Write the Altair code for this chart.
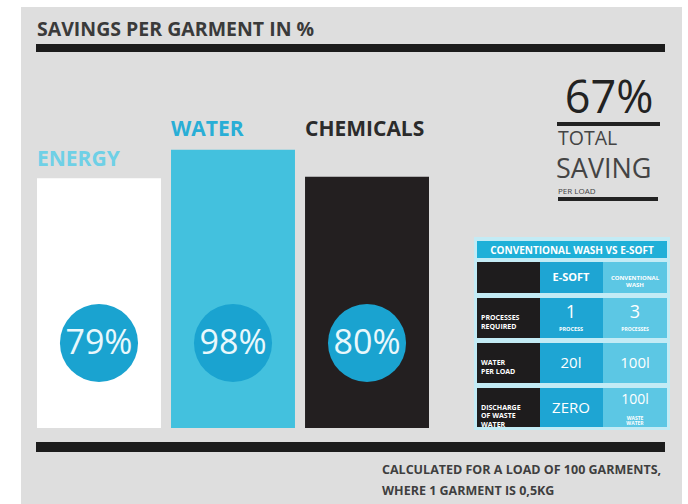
import altair as alt
import pandas as pd

# ---- data ----
categories = ["ENERGY", "WATER", "CHEMICALS"]
savings = [79, 98, 80]
saving_labels = ["79%", "98%", "80%"]
bar_colors = ["#ffffff", "#43c1de", "#231f20"]
label_colors = ["#6fd0e6", "#29aed6", "#2b2b2b"]

title_text = "SAVINGS PER GARMENT IN %"
total_value = "67%"
total_lines = ["TOTAL", "SAVING"]
total_sub = "PER LOAD"
footer_lines = ["CALCULATED FOR A LOAD OF 100 GARMENTS,", "WHERE 1 GARMENT IS 0,5KG"]

table_title = "CONVENTIONAL WASH VS E-SOFT"
row_labels = ["", "PROCESSES\nREQUIRED", "WATER\nPER LOAD", "DISCHARGE\nOF WASTE\nWATER"]
esoft_values = ["E-SOFT", "1", "20l", "ZERO"]
esoft_sub = ["", "PROCESS", "", ""]
conv_values = ["CONVENTIONAL\nWASH", "3", "100l", "100l"]
conv_sub = ["", "PROCESSES", "", "WASTE\nWATER"]

FONT = "Open Sans"

df = pd.DataFrame({"cat": categories, "value": savings, "label": saving_labels})

xscale = alt.Scale(domain=categories, range=[37, 429], paddingInner=0.075, paddingOuter=0)
yscale = alt.Scale(type="sqrt", domain=[0, 100], range=[428, 147])
X = alt.X("cat:N", scale=xscale, axis=None)


def box(x1, x2, y1, y2, color):
    return alt.Chart(pd.DataFrame({"a": [0]})).mark_rect(color=color).encode(
        x=alt.value(x1), x2=alt.value(x2), y=alt.value(y1), y2=alt.value(y2))


def txt(t, x, y, size, color="#333333", weight="normal", align="left", baseline="alphabetic", lh=None):
    kw = dict(font=FONT, fontSize=size, color=color, fontWeight=weight, align=align,
              baseline=baseline, lineBreak="\n")
    if lh is not None:
        kw["lineHeight"] = lh
    return alt.Chart(pd.DataFrame({"t": [t]})).mark_text(**kw).encode(
        x=alt.value(x), y=alt.value(y), text="t:N")


layers = []
# grey panel
layers.append(box(21, 682, 7, 504, "#dedede"))
# title + rules
layers.append(txt(title_text, 37, 36, 19.5, "#3a3a3a", "bold"))
layers.append(box(36, 665, 44, 52, "#1c1c1c"))
layers.append(box(36, 665, 442, 452, "#1c1c1c"))

# bars
bars = alt.Chart(df).mark_bar().encode(
    x=X,
    y=alt.Y("value:Q", scale=yscale, axis=None),
    color=alt.Color("cat:N", scale=alt.Scale(domain=categories, range=bar_colors), legend=None),
)
layers.append(bars)

# category labels
label_y = {"ENERGY": 166, "WATER": 136, "CHEMICALS": 136}
for c, col in zip(categories, label_colors):
    layers.append(
        alt.Chart(df).transform_filter(alt.datum.cat == c).mark_text(
            font=FONT, fontSize=21, fontWeight="bold", color=col, align="left", baseline="alphabetic"
        ).encode(x=alt.X("cat:N", scale=xscale, axis=None, bandPosition=0),
                 y=alt.value(label_y[c]), text="cat:N")
    )

# circles
layers.append(alt.Chart(df).mark_circle(size=6100, opacity=1, color="#1aa3d0").encode(
    x=X, y=alt.value(343)))
layers.append(alt.Chart(df).mark_text(font=FONT, fontSize=34, color="#e9f8fc", baseline="middle").encode(
    x=X, y=alt.value(344), text="label:N"))

# total saving block
layers.append(txt(total_value, 609, 113, 45, "#222222", "normal", "center"))
layers.append(box(557, 660, 122, 126, "#222222"))
layers.append(txt(total_lines[0], 558, 145, 19.5, "#444444", "normal"))
layers.append(txt(total_lines[1], 556, 178, 27, "#444444", "normal"))
layers.append(txt(total_sub, 558, 194, 8, "#444444", "normal"))
layers.append(box(558, 658, 197, 201, "#222222"))

# table
layers.append(box(474, 670, 237, 430, "#c3ebf5"))
layers.append(box(477, 667, 241, 258, "#1fb0d8"))
layers.append(txt(table_title, 572, 253.5, 10, "#ffffff", "bold", "center"))
rows = [(262, 293), (298, 338), (343, 383), (388, 427)]
for i, (y1, y2) in enumerate(rows):
    layers.append(box(477, 540, y1, y2, "#1e1c1d"))
    layers.append(box(540, 603, y1, y2, "#1ea5d3"))
    layers.append(box(603, 667, y1, y2, "#5cc7e4"))
    ym = (y1 + y2) / 2
    if row_labels[i]:
        layers.append(txt(row_labels[i], 481, ym, 7, "#ffffff", "bold", "left", "middle", 8.5))
    if i == 0:
        layers.append(txt(esoft_values[i], 571, ym, 11, "#ffffff", "bold", "center", "middle"))
        layers.append(txt(conv_values[i], 635, ym, 6, "#ffffff", "bold", "center", "middle", 7.5))
    else:
        big = 18 if i == 1 else 15
        off = -5 if (esoft_sub[i]) else 0
        layers.append(txt(esoft_values[i], 571, ym + off, big, "#ffffff", "normal", "center", "middle"))
        if esoft_sub[i]:
            layers.append(txt(esoft_sub[i], 571, ym + 11, 5.5, "#ffffff", "bold", "center", "middle", 6))
        n_sub = conv_sub[i].count("\n") + 1 if conv_sub[i] else 0
        off2 = (-5 if n_sub == 1 else -8) if n_sub else 0
        layers.append(txt(conv_values[i], 635, ym + off2, big if n_sub < 2 else 14, "#ffffff", "normal", "center", "middle"))
        if conv_sub[i]:
            layers.append(txt(conv_sub[i], 635, ym + (11 if n_sub == 1 else 10), 5, "#ffffff", "bold", "center", "middle", 5.5))

# footer
layers.append(txt(footer_lines[0], 382, 474, 12.5, "#3f3f3f", "bold"))
layers.append(txt(footer_lines[1], 382, 495, 12.5, "#3f3f3f", "bold"))

chart = alt.layer(*layers).properties(
    width=688, height=504, autosize=alt.AutoSizeParams(type="none"), padding=0,
    background="#ffffff",
).configure_view(stroke=None, fill=None)

chart.save("out.html", embed_options={"renderer": "svg", "actions": False})
